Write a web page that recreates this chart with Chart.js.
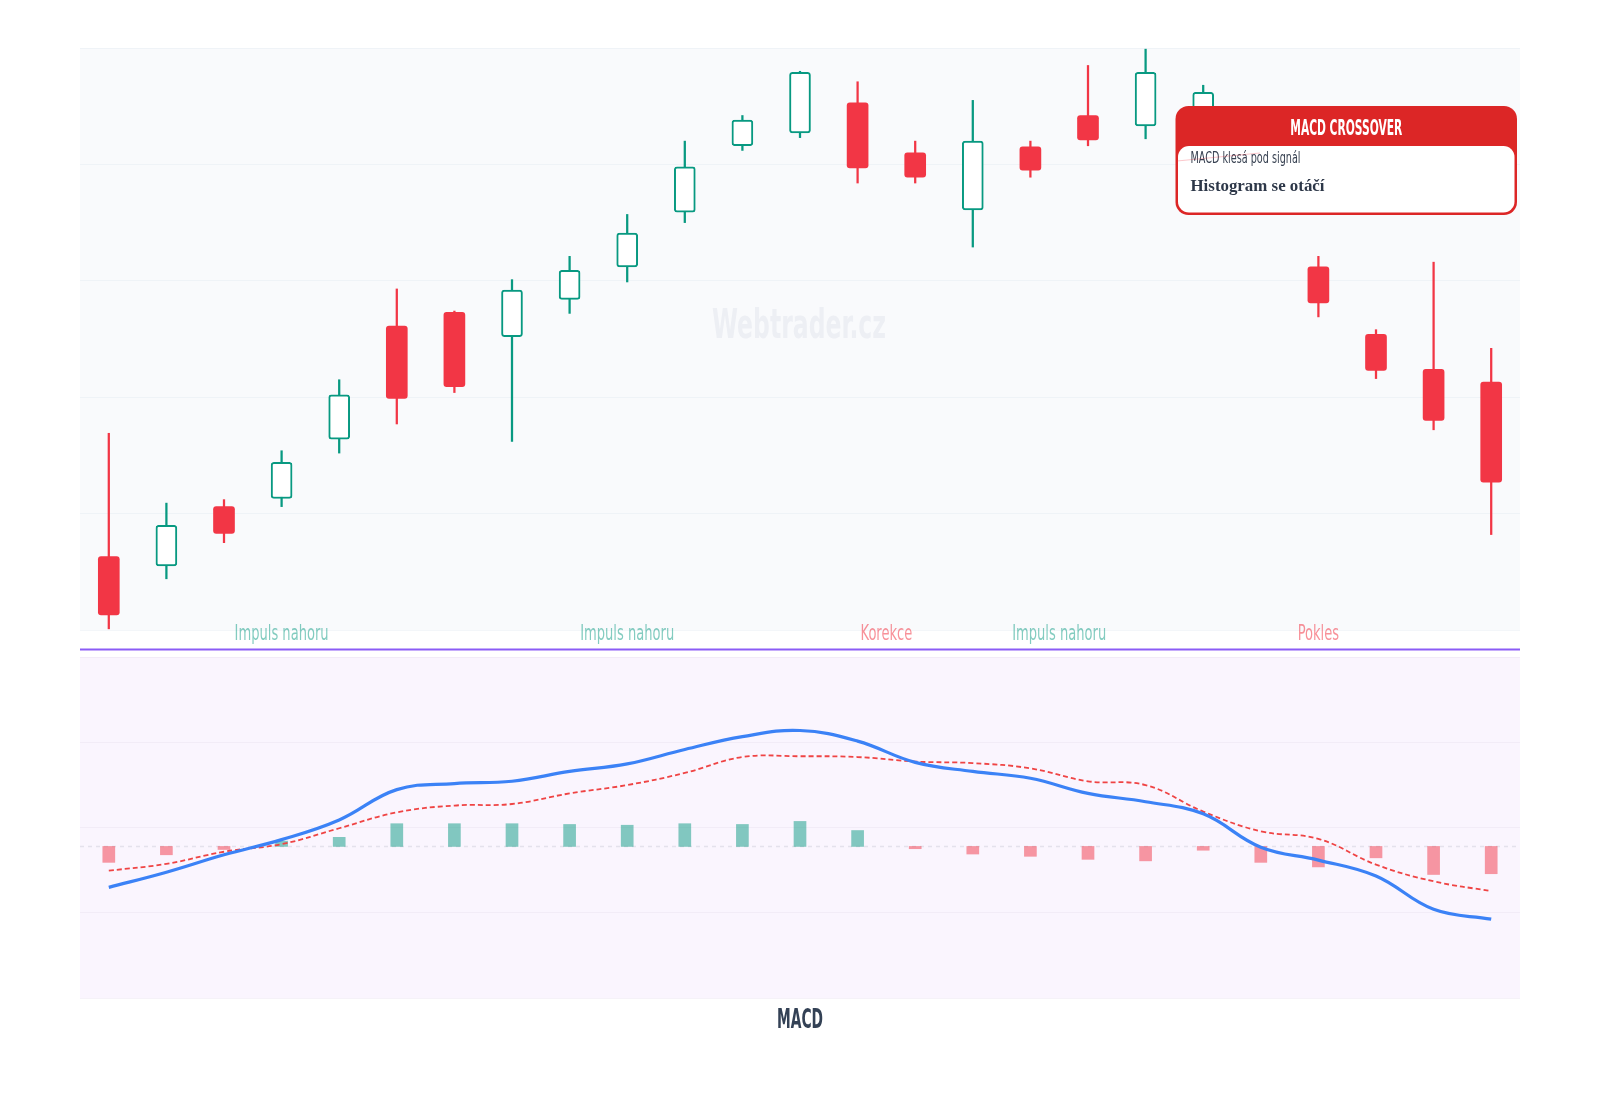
<!DOCTYPE html>
<html><head><meta charset="utf-8">
<script src="https://cdn.jsdelivr.net/npm/chart.js@4.4.1/dist/chart.umd.min.js"></script>
<style>
html,body{margin:0;padding:0;background:#ffffff;width:1600px;height:1100px;overflow:hidden}
#top{position:absolute;left:0;top:0;width:1600px;height:660px}
#bot{position:absolute;left:0;top:650px;width:1600px;height:450px}
</style></head><body>
<div id="top"><canvas id="c1"></canvas></div>
<div id="bot"><canvas id="c2"></canvas></div>
<script>
// ---------- DATA ----------
const categories = ['1','2','3','4','5','6','7','8','9','10','11','12','13','14','15','16','17','18','19','20','21','22','23','24','25'];
const opens  = [106.3,105.5,110.6,111.3,116.4,126.1,127.3,125.2,128.4,131.2,135.9,141.6,142.7,145.3,141.0,136.1,141.5,144.2,143.3,141.5,141.2,131.2,125.4,122.4,121.3];
const highs  = [116.9,110.9,111.2,115.4,121.5,129.3,127.4,130.1,132.1,135.7,142.0,144.2,148.0,147.1,142.0,145.5,142.0,148.5,149.9,146.8,142.5,132.1,125.8,131.6,124.2];
const lows   = [100.1,104.4,107.5,110.6,115.2,117.7,120.4,116.2,127.2,129.9,135.0,141.2,142.3,138.4,138.4,132.9,138.9,141.6,142.2,140.6,136.8,126.9,121.6,117.2,108.2];
const closes = [101.3,109.0,108.3,114.4,120.2,119.9,120.9,129.2,130.9,134.1,139.8,143.8,147.9,139.7,138.9,142.0,139.5,142.1,147.9,146.2,137.4,128.1,122.3,118.0,112.7];

const macdLine   = [-0.54,-0.34,-0.11,0.09,0.35,0.75,0.83,0.86,0.99,1.09,1.28,1.45,1.53,1.39,1.11,0.99,0.90,0.70,0.59,0.43,-0.01,-0.18,-0.39,-0.83,-0.96];
const signalLine = [-0.32,-0.23,-0.07,0.03,0.24,0.45,0.54,0.56,0.70,0.81,0.97,1.18,1.19,1.18,1.12,1.10,1.03,0.86,0.81,0.46,0.20,0.10,-0.24,-0.46,-0.59];
const histogram  = [-0.21,-0.11,-0.04,0.07,0.12,0.30,0.30,0.30,0.29,0.28,0.30,0.29,0.33,0.21,-0.03,-0.10,-0.13,-0.17,-0.19,-0.05,-0.21,-0.27,-0.15,-0.37,-0.36];

const priceTicks = [100,110,120,130,140,150];
const macdTicks  = [-2,-0.875,0.25,1.375,2.5];

const phaseLabels = ['Impuls nahoru','Impuls nahoru','Korekce','Impuls nahoru','Pokles'];
const phaseAt     = [3,9,13.5,16.5,21];
const phaseUp     = [true,true,false,true,false];

const boxTitle = 'MACD CROSSOVER';
const boxLine1 = 'MACD klesá pod signál';
const boxLine2 = 'Histogram se otáčí';
const watermark = 'Webtrader.cz';
const macdTitle = 'MACD';

// ---------- STYLE ----------
const UP = '#089981', DOWN = '#f23645';
const COND = '"Liberation Sans Narrow","DejaVu Sans Condensed","Arial Narrow",sans-serif';
const SERIF = '"Liberation Serif","DejaVu Serif",serif';

function fitText(ctx, text, x, y, font, color, width, align){
  ctx.save();
  ctx.font = font; ctx.fillStyle = color; ctx.textBaseline = 'middle'; ctx.textAlign = align;
  const w = ctx.measureText(text).width;
  const k = width / w;
  ctx.translate(x, y); ctx.scale(k, 1);
  ctx.fillText(text, 0, 0);
  ctx.restore();
}
function condenseFactor(ctx, font, ref, width){
  ctx.save(); ctx.font = font; const w = ctx.measureText(ref).width; ctx.restore(); return width / w;
}
function condText(ctx, text, x, y, font, color, k, align){
  ctx.save();
  ctx.font = font; ctx.fillStyle = color; ctx.textBaseline = 'middle'; ctx.textAlign = align;
  ctx.translate(x, y); ctx.scale(k, 1); ctx.fillText(text, 0, 0);
  ctx.restore();
}
function rr(ctx, x, y, w, h, r){
  ctx.beginPath();
  ctx.moveTo(x+r, y); ctx.lineTo(x+w-r, y); ctx.arcTo(x+w, y, x+w, y+r, r);
  ctx.lineTo(x+w, y+h-r); ctx.arcTo(x+w, y+h, x+w-r, y+h, r);
  ctx.lineTo(x+r, y+h); ctx.arcTo(x, y+h, x, y+h-r, r);
  ctx.lineTo(x, y+r); ctx.arcTo(x, y, x+r, y, r); ctx.closePath();
}

const areaBg = {
  id: 'areaBg',
  beforeDraw(chart, args, opts){
    const {ctx, chartArea:a} = chart;
    ctx.save(); ctx.fillStyle = opts.color; ctx.fillRect(a.left, a.top, a.right-a.left, a.bottom-a.top); ctx.restore();
  }
};

const priceDecor = {
  id: 'priceDecor',
  beforeDatasetsDraw(chart){
    const {ctx, chartArea:a} = chart;
    const cx = (a.left + a.right)/2 - 1;
    fitText(ctx, watermark, cx, 328, 'bold 40px '+COND, 'rgba(160,170,195,0.13)', 174, 'center');
  },
  afterDraw(chart){
    const {ctx, chartArea:a, scales:{x}} = chart;
    const kf = condenseFactor(ctx, '22px '+COND, 'Impuls nahoru', 94);
    phaseLabels.forEach((t,i)=>{
      const px = x.getPixelForValue(phaseAt[i]);
      condText(ctx, t, px, 634, '22px '+COND, phaseUp[i] ? 'rgba(8,153,129,0.5)' : 'rgba(242,54,69,0.55)', kf, 'center');
    });
    ctx.save(); ctx.strokeStyle = '#8b5cf6'; ctx.lineWidth = 2;
    ctx.beginPath(); ctx.moveTo(a.left, 649.5); ctx.lineTo(a.right, 649.5); ctx.stroke(); ctx.restore();
    const bx = 1175.5, by = 106, bw = a.right - 3 - bx, bh = 109, hh = 40;
    ctx.save();
    rr(ctx, bx, by, bw, bh, 13); ctx.fillStyle = '#dc2626'; ctx.fill();
    rr(ctx, bx+2.5, by+hh, bw-5, bh-hh-2.5, 11); ctx.fillStyle = '#ffffff'; ctx.fill();
    ctx.restore();
    fitText(ctx, boxTitle, bx + bw/2, 130, 'bold 21px '+COND, '#ffffff', 112, 'center');
    fitText(ctx, boxLine1, 1190.5, 159, '16px '+COND, '#374151', 110, 'left');
    ctx.save(); ctx.strokeStyle = 'rgba(242,54,69,0.28)'; ctx.lineWidth = 1;
    ctx.beginPath(); ctx.moveTo(1177, 161); ctx.lineTo(1260, 153); ctx.stroke(); ctx.restore();
    fitText(ctx, boxLine2, 1190.5, 187, 'bold 17px '+SERIF, '#2d3748', 134, 'left');
  }
};

const macdDecor = {
  id: 'macdDecor',
  beforeDatasetsDraw(chart){
    const {ctx, chartArea:a, scales:{y}} = chart;
    const py = Math.round(y.getPixelForValue(0)) + 0.5;
    ctx.save(); ctx.strokeStyle = '#e4e1ec'; ctx.lineWidth = 1.5; ctx.setLineDash([4,4]);
    ctx.beginPath(); ctx.moveTo(a.left, py); ctx.lineTo(a.right, py); ctx.stroke(); ctx.restore();
  },
  afterDraw(chart){
    const {ctx, chartArea:a} = chart;
    fitText(ctx, macdTitle, (a.left + a.right)/2, a.bottom + 23, 'bold 26px '+COND, '#334155', 46, 'center');
  }
};

const isUp = closes.map((c,i)=>c >= opens[i]);

new Chart(document.getElementById('c1'), {
  type: 'bar',
  data: {
    labels: categories,
    datasets: [
      {
        label: 'Tělo svíčky',
        data: opens.map((o,i)=>[o, closes[i]]),
        backgroundColor: isUp.map(u=>u ? '#ffffff' : DOWN),
        borderColor: isUp.map(u=>u ? UP : DOWN),
        borderWidth: isUp.map(u=>u ? 2 : 0),
        borderRadius: 3,
        borderSkipped: false,
        barThickness: 21,
        grouped: false,
        order: 1
      },
      {
        label: 'Knot',
        data: lows.map((l,i)=>[l, highs[i]]),
        backgroundColor: isUp.map(u=>u ? UP : DOWN),
        borderWidth: 0,
        barThickness: 1.6,
        grouped: false,
        order: 2
      }
    ]
  },
  options: {
    responsive: true, maintainAspectRatio: false, animation: false,
    layout: { padding: { left: 80, right: 80, top: 48, bottom: 30 } },
    scales: {
      x: { type: 'category', offset: true, display: false },
      y: {
        min: priceTicks[0], max: priceTicks[priceTicks.length-1],
        afterBuildTicks(s){ s.ticks = priceTicks.map(v=>({value:v})); },
        afterFit(s){ s.width = 0; },
        ticks: { display: false },
        grid: { color: 'rgba(226,232,240,0.4)', drawTicks: false },
        border: { display: false }
      }
    },
    plugins: {
      legend: { display: false }, tooltip: { enabled: false },
      areaBg: { color: '#f9fafc' }
    }
  },
  plugins: [areaBg, priceDecor]
});

new Chart(document.getElementById('c2'), {
  type: 'bar',
  data: {
    labels: categories,
    datasets: [
      {
        type: 'line', label: 'MACD', data: macdLine,
        borderColor: '#3b82f6', borderWidth: 3.2, tension: 0.4, pointRadius: 0, fill: false, order: 1
      },
      {
        type: 'line', label: 'Signál', data: signalLine,
        borderColor: '#ef4444', borderWidth: 1.8, borderDash: [5,3], tension: 0.4, pointRadius: 0, fill: false, order: 2
      },
      {
        type: 'bar', label: 'Histogram', data: histogram,
        backgroundColor: histogram.map(v=>v >= 0 ? 'rgba(8,153,129,0.5)' : 'rgba(242,54,69,0.5)'),
        borderWidth: 0, barThickness: 12, order: 3
      }
    ]
  },
  options: {
    responsive: true, maintainAspectRatio: false, animation: false,
    layout: { padding: { left: 80, right: 80, top: 7, bottom: 102 } },
    scales: {
      x: { type: 'category', offset: true, display: false },
      y: {
        min: macdTicks[0], max: macdTicks[macdTicks.length-1],
        afterBuildTicks(s){ s.ticks = macdTicks.map(v=>({value:v})); },
        afterFit(s){ s.width = 0; },
        ticks: { display: false },
        grid: { color: 'rgba(232,226,240,0.45)', drawTicks: false },
        border: { display: false }
      }
    },
    plugins: {
      legend: { display: false }, tooltip: { enabled: false },
      areaBg: { color: '#faf5fe' }
    }
  },
  plugins: [areaBg, macdDecor]
});
</script>
</body></html>
